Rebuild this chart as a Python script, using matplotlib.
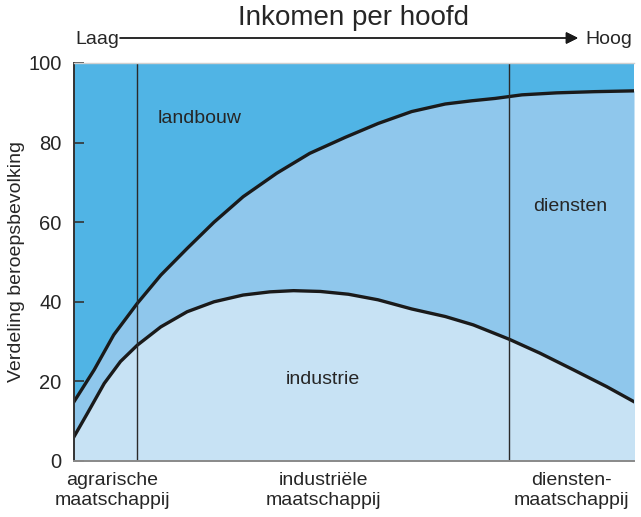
import matplotlib.pyplot as plt
import numpy as np

plt.rcParams['font.family'] = ['Liberation Sans', 'DejaVu Sans']

# income position (0 = laag, 100 = hoog)
x_upper = [0, 3.6, 7.1, 11.3, 15.5, 20.2, 25, 30.2, 36.2, 42.1, 48.4, 54.3,
           60.3, 66.3, 71, 75.2, 80, 86.2, 93, 100]
# boundary landbouw / rest (industrie + diensten below it)
upper = [14.9, 22.9, 31.7, 39.6, 46.7, 53.4, 60.0, 66.4, 72.3, 77.3, 81.3, 84.8,
         87.8, 89.7, 90.5, 91.1, 92.0, 92.5, 92.8, 93.0]

x_lower = [0, 2.4, 5.4, 8.3, 11.3, 15.5, 20.2, 25, 30.2, 35, 39.2, 44, 49,
           54.3, 60.3, 66.3, 71.3, 77.7, 83.2, 89.2, 95.1, 100]
# industrie share
lower = [6.1, 12.0, 19.5, 25.0, 29.1, 33.7, 37.5, 40.0, 41.7, 42.5, 42.8, 42.6, 41.9,
         40.5, 38.2, 36.3, 34.2, 30.6, 27.1, 22.9, 18.7, 14.9]

stage_lines = [11.25, 77.7]
stage_pos = [6.8, 44.6, 88.9]
stage_labels = ["agrarische\nmaatschappij", "industriële\nmaatschappij", "diensten-\nmaatschappij"]
y_ticks = [0, 20, 40, 60, 80, 100]

c_landbouw = "#50b4e5"
c_diensten = "#8fc7ec"
c_industrie = "#c7e2f4"
c_text = "#262626"

fig = plt.figure(figsize=(6.41, 5.17), dpi=100)
ax = fig.add_axes([74 / 641, 56 / 517, 560 / 641, 398 / 517])

ax.set_facecolor(c_landbouw)
ax.fill_between(x_upper, 0, upper, color=c_diensten, lw=0)
ax.fill_between(x_lower, 0, lower, color=c_industrie, lw=0)
ax.plot(x_upper, upper, color="#1a1a1a", lw=2.4, solid_joinstyle="round")
ax.plot(x_lower, lower, color="#1a1a1a", lw=2.4, solid_joinstyle="round")
for xv in stage_lines:
    ax.axvline(xv, color="#2a2a2a", lw=1.0)

ax.set_xlim(0, 100)
ax.set_ylim(0, 100)
ax.set_yticks(y_ticks)
ax.tick_params(axis="y", direction="in", length=7, width=1.2, color="#333333",
               labelsize=14.5, pad=9, labelcolor=c_text)
ax.set_xticks(stage_pos)
ax.set_xticklabels(stage_labels, fontsize=14, linespacing=1.2)
ax.tick_params(axis="x", length=0, pad=8, labelcolor=c_text)
ax.set_ylabel("Verdeling beroepsbevolking", fontsize=14, labelpad=2, color=c_text)

ax.spines["right"].set_visible(False)
ax.spines["top"].set_color("#d0d0d0")
ax.spines["top"].set_linewidth(1.0)
ax.spines["left"].set_color("#333333")
ax.spines["left"].set_linewidth(1.4)
ax.spines["bottom"].set_color("#8a8a8a")
ax.spines["bottom"].set_linewidth(1.4)

ax.text(15.0, 86, "landbouw", fontsize=14, color=c_text, va="center")
ax.text(88.6, 64, "diensten", fontsize=14, color=c_text, va="center", ha="center")
ax.text(44.5, 20.5, "industrie", fontsize=14, color=c_text, va="center", ha="center")

# header: income axis
fig.text(353 / 641, 1 - 18 / 517, "Inkomen per hoofd", fontsize=20, ha="center", va="center",
         color=c_text)
fig.text(75 / 641, 1 - 40 / 517, "Laag", fontsize=14, ha="left", va="center", color=c_text)
fig.text(585 / 641, 1 - 40 / 517, "Hoog", fontsize=14, ha="left", va="center", color=c_text)
fig.add_artist(plt.annotate("", xy=(578 / 641, 1 - 38 / 517), xytext=(120 / 641, 1 - 38 / 517),
                            xycoords="figure fraction", textcoords="figure fraction",
                            arrowprops=dict(arrowstyle="-|>", color="#1a1a1a", lw=1.0,
                                            mutation_scale=18, shrinkA=0, shrinkB=0)))

fig.savefig("out.png", dpi=100)
